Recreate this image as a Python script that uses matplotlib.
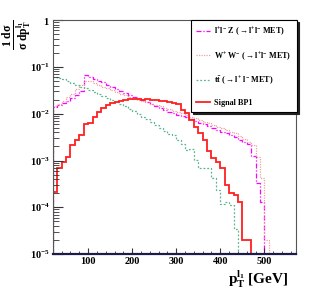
# Distribucion normalizada de pT del lepton lider
import matplotlib.pyplot as plt
import numpy as np
from matplotlib.ticker import FixedLocator, MultipleLocator, NullFormatter

plt.rcParams['font.family'] = ['Liberation Serif', 'DejaVu Serif']
plt.rcParams['font.weight'] = 'bold'
plt.rcParams['mathtext.fontset'] = 'custom'
plt.rcParams['mathtext.rm'] = 'Liberation Serif:bold'
plt.rcParams['mathtext.bf'] = 'Liberation Serif:bold'
plt.rcParams['mathtext.it'] = 'Liberation Serif:bold:italic'

# primer borde de bin y ancho (GeV)
x_inicio = 20
ancho_bin = 10

# valores (1/sigma dsigma/dpT por bin de 10 GeV)
llz = [0.0138, 0.0151, 0.0166, 0.019, 0.022, 0.025, 0.030, 0.066, 0.062, 0.056,
       0.051, 0.047, 0.042, 0.037, 0.033, 0.030, 0.0275, 0.025, 0.023, 0.0214,
       0.0195, 0.0178, 0.0162, 0.0145, 0.0132, 0.012, 0.011, 0.0102, 0.0095, 0.0089,
       0.0083, 0.0076, 0.0069, 0.0063, 0.0059, 0.0054, 0.0049, 0.0045, 0.0041, 0.0038,
       0.0035, 0.0032, 0.0028, 0.0025, 0.0022, 0.00126, 0.00033, 0.00013, 0, 0]

ww = [0.0145, 0.0162, 0.019, 0.0224, 0.0263, 0.033, 0.042, 0.050, 0.049, 0.0447,
      0.0407, 0.038, 0.0347, 0.0316, 0.0288, 0.0269, 0.0245, 0.0229, 0.0214, 0.020,
      0.0186, 0.0174, 0.0162, 0.0151, 0.0145, 0.0135, 0.0126, 0.0117, 0.011, 0.0102,
      0.0093, 0.0085, 0.0079, 0.0072, 0.0068, 0.0063, 0.0058, 0.0052, 0.0049, 0.0045,
      0.0041, 0.0038, 0.0033, 0.0029, 0.0025, 0.0021, 0.0012, 0.00042, 0.00002, 0]

tt = [0.060, 0.0575, 0.054, 0.050, 0.046, 0.042, 0.038, 0.0355, 0.032, 0.0295,
      0.027, 0.024, 0.022, 0.020, 0.0178, 0.0162, 0.0145, 0.0129, 0.0112, 0.0100,
      0.0085, 0.0076, 0.0068, 0.0058, 0.0050, 0.0042, 0.0036, 0.0035, 0.00275, 0.0023,
      0.00166, 0.00178, 0.00102, 0.00068, 0.00068, 0.00068, 0.00042, 0.00023, 0.00012, 0.00013,
      0.00011, 0.000035, 0, 0, 0]

senal = [0.00021, 0.00069, 0.00093, 0.0012, 0.0021, 0.0028, 0.0035, 0.0059, 0.0062, 0.0085,
         0.011, 0.013, 0.015, 0.0166, 0.0178, 0.019, 0.020, 0.0205, 0.0205, 0.0205,
         0.020, 0.0205, 0.020, 0.020, 0.019, 0.019, 0.0174, 0.017, 0.0162, 0.012,
         0.0102, 0.0074, 0.0052, 0.0038, 0.00275, 0.0016, 0.00112, 0.00093, 0.00068, 0.000295,
         0.0002, 0.00018, 0.00013, 0.00002, 0.00002, 0, 0, 0, 0, 0,
         0, 0, 0]

series = [
    (llz, '#ff00ff', (0, (4, 1.5, 1, 1.5)), 0.9, r'$\mathbf{l^{+}l^{-}\ Z\ (\rightarrow l^{+}l^{-}\ MET)}$'),
    (ww, '#f2a0a0', (0, (1, 1)), 0.9, r'$\mathbf{W^{+}\ W^{-}\ (\rightarrow l^{+}l^{-}\ MET)}$'),
    (tt, '#5fb58e', (0, (1.5, 1.5)), 0.9, r'$\mathbf{t\bar{t}\ (\rightarrow l^{+}\ l^{-}\ MET)}$'),
    (senal, '#ff1f1f', '-', 1.3, 'Signal BP1'),
]

y_min = 1e-5

fig = plt.figure(figsize=(3.11, 3.0), dpi=100)
ax = fig.add_axes([0.170, 0.153, 0.782, 0.780])

for vals, color, ls, lw, label in series:
    vals = np.array(vals, dtype=float)
    bordes = x_inicio + ancho_bin * np.arange(len(vals) + 1)
    # los bins vacios se dibujan sobre el eje, como en ROOT
    vals = np.where(vals > 0, vals, y_min)
    ax.stairs(vals, bordes, baseline=y_min, color=color, linestyle=ls,
              linewidth=lw, label=label)

ax.set_yscale('log')
ax.set_ylim(y_min, 1)
ax.set_xlim(20, 572)

ax.yaxis.set_major_locator(FixedLocator([1e-5, 1e-4, 1e-3, 1e-2, 1e-1, 1]))
ax.set_yticklabels([r'$\mathbf{10^{-5}}$', r'$\mathbf{10^{-4}}$', r'$\mathbf{10^{-3}}$',
                    r'$\mathbf{10^{-2}}$', r'$\mathbf{10^{-1}}$', r'$\mathbf{1}$'])
menores = [m * 10.0 ** e for e in range(-5, 0) for m in range(2, 10)]
ax.yaxis.set_minor_locator(FixedLocator(menores))
ax.yaxis.set_minor_formatter(NullFormatter())

ax.set_xticks([100, 200, 300, 400, 500])
ax.set_xticklabels(['100', '200', '300', '400', '500'])
ax.xaxis.set_minor_locator(MultipleLocator(20))

ax.tick_params(axis='both', which='both', direction='in', colors='#333333',
               labelcolor='black', labelsize=7.5, pad=2)
ax.tick_params(axis='y', which='major', length=7)
ax.tick_params(axis='y', which='minor', length=4)
ax.tick_params(axis='x', which='major', length=4.5)
ax.tick_params(axis='x', which='minor', length=2.2)

for s in ['top', 'right', 'left']:
    ax.spines[s].set_color('#555555')
    ax.spines[s].set_linewidth(0.8)
ax.spines['bottom'].set_color('#1c1c4a')
ax.spines['bottom'].set_linewidth(1.6)

leg = ax.legend(loc='upper right', bbox_to_anchor=(1.002, 1.002), fontsize=5.9,
                frameon=True, fancybox=False, edgecolor='black', framealpha=1,
                handlelength=1.7, handletextpad=0.45, labelspacing=1.45,
                borderpad=0.65, borderaxespad=0,
                shadow={'color': '#222222', 'alpha': 1, 'ox': 1.5, 'oy': -1.5})
leg.get_frame().set_linewidth(0.8)

# etiquetas de los ejes
fig.text(0.055, 0.935, r'$\mathbf{\frac{1\ d\sigma}{\sigma\ dp_{T}^{l_{1}}}}$',
         rotation=90, ha='center', va='top', fontsize=12)
fig.text(0.928, 0.068, r'$\mathbf{p_{T}^{l_{1}}}$ [GeV]', ha='right', va='center',
         fontsize=11, fontweight='bold')

plt.savefig('out.png', dpi=100)
